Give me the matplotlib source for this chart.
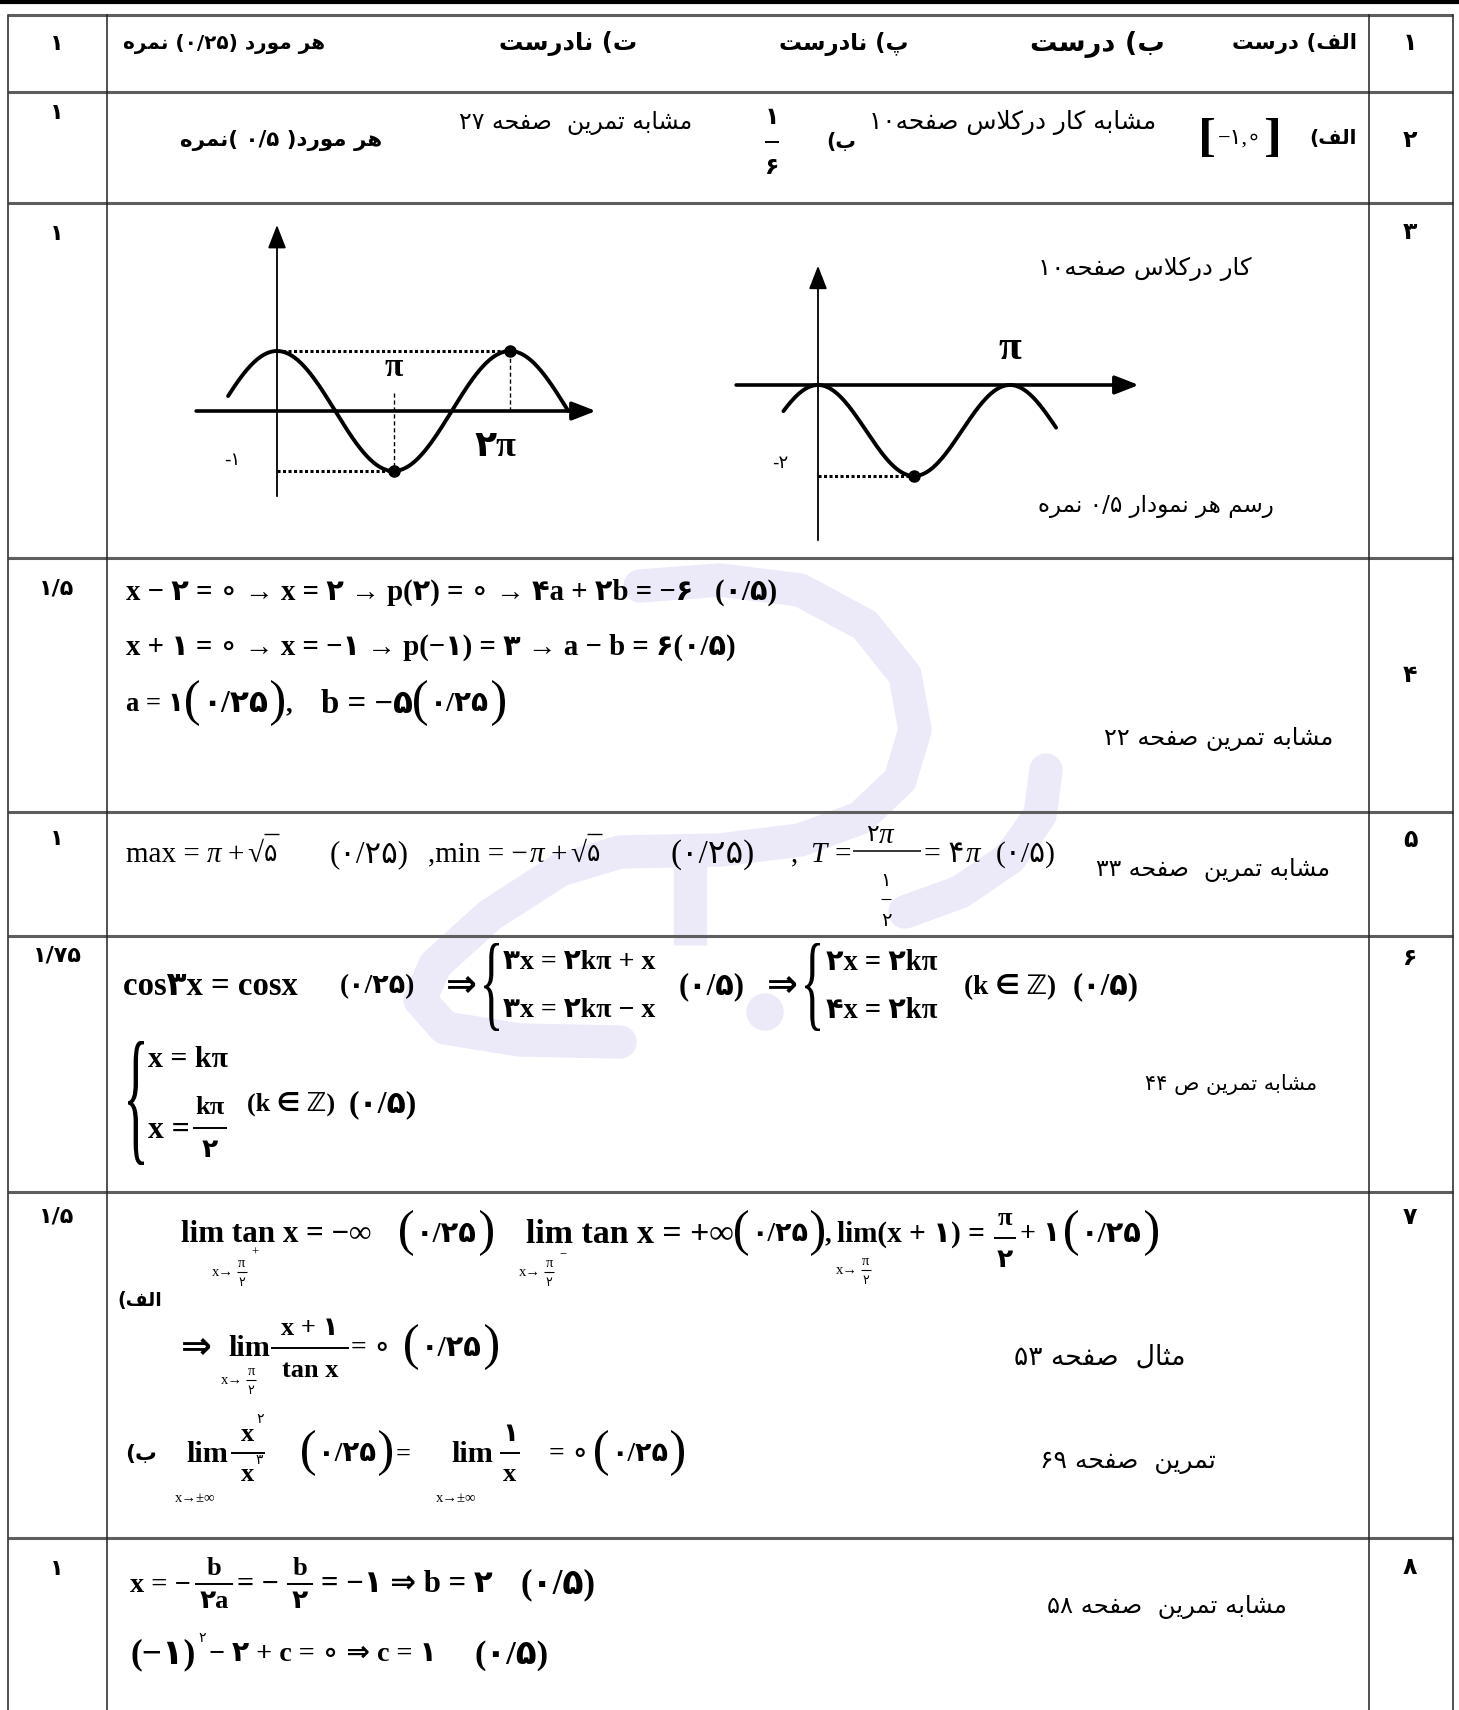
import re
import numpy as np
import matplotlib
matplotlib.use("Agg")
import matplotlib.pyplot as plt
from matplotlib.textpath import TextPath
from matplotlib.font_manager import FontProperties
from matplotlib.patches import PathPatch, Circle
from matplotlib.transforms import Affine2D

# ---------------- data ----------------
row_numbers = ['۱', '۲', '۳', '۴', '۵', '۶', '۷', '۸']
row_scores = ['۱', '۱', '۱', '۱/۵', '۱', '۱/۷۵', '۱/۵', '۱']
q1_answers = ['الف) درست', 'ب) درست', 'پ) نادرست', 'ت) نادرست', 'هر مورد (۰/۲۵) نمره']
q2_notes = ['الف)', 'مشابه کار درکلاس صفحه۱۰', 'ب)', 'مشابه تمرین  صفحه ۲۷', 'هر مورد( ۰/۵ )نمره']
q3_notes = ['کار درکلاس صفحه۱۰', 'رسم هر نمودار ۰/۵ نمره']
book_refs = ['مشابه تمرین صفحه ۲۲', 'مشابه تمرین  صفحه ۳۳', 'مشابه تمرین ص ۴۴',
             'مثال  صفحه ۵۳', 'تمرین  صفحه ۶۹', 'مشابه تمرین  صفحه ۵۸']

# graph 1: y = cos x ; graph 2: y = cos 2x - 1   (x ranges in multiples of pi)
g1_range = (-0.42, 2.5)
g1_marks_x = [1.0, 2.0]
g1_marks_y = [-1, 1]
g2_range = (-0.18, 1.24)
g2_marks_x = [0.5]
g2_marks_y = [-2]

# ---------------- persian shaping ----------------
AR = {
    'ا': ('\ufe8d', '\ufe8e', None, None), 'د': ('\ufea9', '\ufeaa', None, None),
    'ر': ('\ufead', '\ufeae', None, None), 'ز': ('\ufeaf', '\ufeb0', None, None),
    'و': ('\ufeed', '\ufeee', None, None),
    'ب': ('\ufe8f', '\ufe90', '\ufe91', '\ufe92'), 'پ': ('\ufb56', '\ufb57', '\ufb58', '\ufb59'),
    'ت': ('\ufe95', '\ufe96', '\ufe97', '\ufe98'), 'ث': ('\ufe99', '\ufe9a', '\ufe9b', '\ufe9c'),
    'ح': ('\ufea1', '\ufea2', '\ufea3', '\ufea4'), 'س': ('\ufeb1', '\ufeb2', '\ufeb3', '\ufeb4'),
    'ش': ('\ufeb5', '\ufeb6', '\ufeb7', '\ufeb8'), 'ص': ('\ufeb9', '\ufeba', '\ufebb', '\ufebc'),
    'ف': ('\ufed1', '\ufed2', '\ufed3', '\ufed4'), 'ک': ('\ufb8e', '\ufb8f', '\ufb90', '\ufb91'),
    'ل': ('\ufedd', '\ufede', '\ufedf', '\ufee0'), 'م': ('\ufee1', '\ufee2', '\ufee3', '\ufee4'),
    'ن': ('\ufee5', '\ufee6', '\ufee7', '\ufee8'), 'ه': ('\ufee9', '\ufeea', '\ufeeb', '\ufeec'),
    'ی': ('\ufbfc', '\ufbfd', '\ufbfe', '\ufbff'),
}


def shape(s):
    out, i, n = [], 0, len(s)
    while i < n:
        c = s[i]
        if c not in AR:
            out.append(c)
            i += 1
            continue
        prev = i > 0 and s[i - 1] in AR and AR[s[i - 1]][2] is not None
        if c == 'ل' and i + 1 < n and s[i + 1] == 'ا':
            out.append('\ufefc' if prev else '\ufefb')
            i += 2
            continue
        nxt = i + 1 < n and s[i + 1] in AR and AR[c][2] is not None
        iso, fin, ini, med = AR[c]
        out.append(med if prev and nxt else fin if prev else ini if nxt else iso)
        i += 1
    return ''.join(out)


def rtl(s):
    toks = re.findall(r'[0-9۰-۹]+(?:[/,.][0-9۰-۹]+)*|.', shape(s))
    mirror = {'(': ')', ')': '(', '[': ']', ']': '['}
    return ''.join(mirror.get(t, t) for t in reversed(toks))


# ---------------- canvas ----------------
W, H = 1459, 1710
fig = plt.figure(figsize=(W / 100, H / 100), dpi=100)
ax = fig.add_axes([0, 0, 1, 1])
ax.set_xlim(0, W)
ax.set_ylim(H, 0)
ax.axis('off')
renderer = fig.canvas.get_renderer()

SERIF = ['Liberation Serif', 'DejaVu Sans']
FA = ['DejaVu Sans']


def put(x, y, s, size=18, ha='left', bold=True, italic=False, fam=None, w=None, lo=0.7, hi=1.4):
    fam = fam or SERIF
    t = ax.text(x, y + 0.3 * size / 0.72, s, fontsize=size, ha=ha, va='baseline', family=fam,
                weight='bold' if bold else 'normal', style='italic' if italic else 'normal', zorder=4)
    if w:
        k = float(np.clip(w / t.get_window_extent(renderer).width, lo, hi))
        t.set_fontsize(size * k)
        t.set_y(y + 0.3 * size * k / 0.72)
    return t


def wid(t):
    return t.get_window_extent(renderer).width


def fa(xr, y, s, size=16, bold=False, w=None):
    return put(xr, y, rtl(s), size, ha='right', bold=bold, fam=FA, w=w, lo=0.85, hi=1.3)


def bar(x0, x1, y, lw=1.4):
    ax.plot([x0, x1], [y, y], color='k', lw=lw, zorder=4, solid_capstyle='butt')


def frac(xc, yn, yd, num, den, size, half, bold=True, italic=False):
    put(xc, yn, num, size, ha='center', bold=bold, italic=italic)
    put(xc, yd, den, size, ha='center', bold=bold)
    bar(xc - half, xc + half, (yn + yd) / 2, 1.4 if size > 12 else 0.9)


def glyph(ch, x0, x1, y0, y1, bold=False):
    p = TextPath((0, 0), ch, size=100,
                 prop=FontProperties(family='Liberation Serif', weight='bold' if bold else 'normal'))
    e = p.get_extents()
    tr = Affine2D().translate(-e.x0, -e.y0).scale((x1 - x0) / e.width, -(y1 - y0) / e.height).translate(x0, y1)
    ax.add_patch(PathPatch(tr.transform_path(p), fc='k', lw=0, zorder=4))


def paren_group(x0, x1, y, inner, size=18, h=42, pw=11):
    glyph('(', x0, x0 + pw, y - h / 2, y + h / 2)
    glyph(')', x1 - pw, x1, y - h / 2, y + h / 2)
    put((x0 + x1) / 2, y, inner, size, ha='center', w=x1 - x0 - 2 * pw - 6)


def limsub(xc, y, top, bottom):
    # small "x -> pi/2" under a lim
    put(xc - 2, y + 8, 'x→', 10.5, ha='right', bold=False)
    put(xc + 6, y - 1, top, 10.5, ha='center', bold=False)
    put(xc + 6, y + 18, bottom, 9, ha='center', bold=False)
    bar(xc + 1, xc + 11, y + 8, 0.8)


# ---------------- watermark ----------------
wm = '#ece9f8'
ax.plot([640, 720, 800, 865, 905, 915, 900, 860, 800, 720, 620, 560, 490, 435, 420, 445, 520, 620],
        [586, 580, 590, 625, 675, 730, 780, 818, 840, 850, 852, 870, 915, 965, 1000, 1028, 1040, 1042],
        color=wm, lw=24, solid_capstyle='round', solid_joinstyle='round', zorder=0)
ax.plot([1046, 1040, 1010, 960, 905], [770, 815, 858, 892, 912], color=wm, lw=24,
        solid_capstyle='round', zorder=0)
ax.plot([690, 690], [860, 945], color=wm, lw=24, solid_capstyle='butt', zorder=0)
ax.add_patch(Circle((765, 1012), 18, color=wm, zorder=0))

# ---------------- table ----------------
ax.plot([0, W], [2, 2], color='k', lw=3, zorder=2)
for y in [15, 92, 203, 558, 812, 936, 1192, 1538]:
    ax.plot([8, 1453], [y, y], color='#5e5e5e', lw=2.2, zorder=2, solid_capstyle='butt')
for x in [8, 107, 1369, 1453]:
    ax.plot([x, x], [15, H], color='#222222', lw=1.1, zorder=2)

num_y = [43, 140, 232, 675, 840, 958, 1217, 1567]
score_y = [43, 112, 233, 588, 838, 955, 1216, 1568]
for n, y in zip(row_numbers, num_y):
    put(1410, y, n, 17, ha='center', fam=FA)
for sc, y in zip(row_scores, score_y):
    put(57, y, sc, 16, ha='center', fam=FA)

# row 1
for s, xr, w in zip(q1_answers, [1357, 1165, 908, 637, 325], [125, 135, 130, 138, 200]):
    fa(xr, 43, s, 17, bold=True, w=w)

# row 2
fa(1357, 138, q2_notes[0], 17, bold=True, w=44)
glyph('[', 1202, 1214, 118, 157, bold=True)
glyph(']', 1266, 1278, 118, 157, bold=True)
put(1240, 137, '−۱,∘', 17, ha='center', bold=False, w=44)
fa(1156, 122, q2_notes[1], 15, w=289)
fa(856, 142, q2_notes[2], 17, bold=True, w=30)
frac(772, 117, 167, '۱', '۶', 17, 7)
fa(692, 122, q2_notes[3], 15, w=234)
fa(382, 140, q2_notes[4], 17, bold=True, w=202)

# row 3 : graphs
fa(1252, 268, q3_notes[0], 15, w=214)
fa(1274, 505, q3_notes[1], 15, w=236)


def graph_axes(box, origin, sx, sy):
    x0, y0, x1, y1 = box
    g = fig.add_axes([x0 / W, 1 - y1 / H, (x1 - x0) / W, (y1 - y0) / H])
    ox, oy = origin
    g.set_xlim((x0 - ox) / sx, (x1 - ox) / sx)
    g.set_ylim((oy - y1) / sy, (oy - y0) / sy)
    g.axis('off')
    g.patch.set_alpha(0)
    return g


def arrow(g, p0, p1, lw):
    g.annotate('', xy=p1, xytext=p0,
               arrowprops=dict(arrowstyle='-|>,head_length=0.9,head_width=0.35', lw=lw, color='k',
                               shrinkA=0, shrinkB=0, mutation_scale=16))


# left graph  y = cos x
g1 = graph_axes((185, 215, 610, 505), (277, 411), 233 / (2 * np.pi), 60)
xs = np.linspace(g1_range[0] * np.pi, g1_range[1] * np.pi, 300)
g1.plot(xs, np.cos(xs), color='k', lw=2.8, solid_capstyle='round')
arrow(g1, (-2.18, 0), (8.6, 0), 2.6)
arrow(g1, (0, -1.42), (0, 3.1), 1.3)
mx = np.array(g1_marks_x) * np.pi
g1.plot([0, mx[1]], [g1_marks_y[1]] * 2, color='k', lw=2.2, ls=(0, (1, 0.8)))
g1.plot([0, mx[0]], [g1_marks_y[0]] * 2, color='k', lw=2.2, ls=(0, (1, 0.8)))
g1.plot([mx[0]] * 2, [0.3, g1_marks_y[0]], color='k', lw=1.0, ls=(0, (3, 2)))
g1.plot([mx[1]] * 2, [0, g1_marks_y[1]], color='k', lw=1.0, ls=(0, (3, 2)))
g1.plot(mx, g1_marks_y, 'o', color='k', ms=8)
g1.text(mx[0], 0.72, 'π', fontsize=24, ha='center', va='center', family=SERIF, weight='bold')
g1.text(5.9, -0.6, '۲π', fontsize=26, ha='center', va='center', family=SERIF, weight='bold')
g1.text(-1.21, -0.82, '-۱', fontsize=13, ha='center', va='center', family=FA)

# right graph  y = cos 2x - 1
g2 = graph_axes((720, 250, 1150, 548), (818, 385), 192 / np.pi, 45.5)
xs = np.linspace(g2_range[0] * np.pi, g2_range[1] * np.pi, 300)
g2.plot(xs, np.cos(2 * xs) - 1, color='k', lw=2.8, solid_capstyle='round')
arrow(g2, (-1.34, 0), (5.25, 0), 2.6)
arrow(g2, (0, -3.41), (0, 2.62), 1.3)
mx2 = np.array(g2_marks_x) * np.pi
g2.plot([0, mx2[0]], [g2_marks_y[0]] * 2, color='k', lw=2.2, ls=(0, (1, 0.8)))
g2.plot(mx2, g2_marks_y, 'o', color='k', ms=8)
g2.text(np.pi, 0.8, 'π', fontsize=30, ha='center', va='center', family=SERIF, weight='bold')
g2.text(-0.62, -1.72, '-۲', fontsize=13, ha='center', va='center', family=FA)

# row 4
put(126, 591, 'x − ۲ = ∘ → x = ۲ → p(۲) = ∘ → ۴a + ۲b = −۶   (۰/۵)', 19, w=650)
put(126, 646, 'x + ۱ = ∘ → x = −۱ → p(−۱) = ۳ → a − b = ۶(۰/۵)', 19, w=610)
put(126, 703, 'a = ۱', 19, w=58)
paren_group(186, 284, 703, '۰/۲۵', 19, 46, 13)
put(286, 703, ',', 19)
put(321, 703, 'b = −۵', 19, w=92)
paren_group(414, 505, 703, '۰/۲۵', 19, 46, 13)
fa(1333, 738, book_refs[0], 15, w=230)

# row 5 (regular)
y5 = 853
s5 = 21
x = 126
t = put(x, y5, 'max =', s5, bold=False); x += wid(t) + 7
t = put(x, y5, 'π', s5, bold=False, italic=True); x += wid(t) + 6
t = put(x, y5, '+', s5, bold=False); x += wid(t) + 4
t = put(x, y5, '√', s5, bold=False); x += wid(t)
t = put(x, y5, '۵', 18, bold=False, fam=FA)
bar(x, x + wid(t) + 2, y5 - 19, 1.0)
put(330, y5, '(۰/۲۵)', s5, bold=False, w=79)
x = 428
t = put(x, y5, ',min = −', s5, bold=False); x += wid(t) + 2
t = put(x, y5, 'π', s5, bold=False, italic=True); x += wid(t) + 6
t = put(x, y5, '+', s5, bold=False); x += wid(t) + 4
t = put(x, y5, '√', s5, bold=False); x += wid(t)
t = put(x, y5, '۵', 18, bold=False, fam=FA)
bar(x, x + wid(t) + 2, y5 - 19, 1.0)
put(670, y5, '(۰/۲۵)', s5, bold=False, w=84)
put(791, y5, ',', s5, bold=False)
put(810, y5, 'T', s5, bold=False, italic=True)
put(834, y5, '=', s5, bold=False)
put(879, 834, '۲', 17, ha='right', bold=False, fam=FA)
put(879, 834, 'π', s5, ha='left', bold=False, italic=True)
bar(853, 921, y5 - 2, 1.1)
put(886, 880, '۱', 14, ha='center', bold=False, fam=FA)
bar(881, 891, 899, 0.8)
put(886, 920, '۲', 14, ha='center', bold=False, fam=FA)
put(924, y5, '= ۴', s5, bold=False, w=40)
put(966, y5, 'π', s5, bold=False, italic=True)
put(996, y5, '(۰/۵)', s5, bold=False, w=60)
fa(1330, 869, book_refs[1], 15, w=236)

# row 6
y6 = 985
put(123, y6, 'cos۳x = cosx', 19, w=175)
put(340, y6, '(۰/۲۵)', 19, w=75)
put(446, y6, '⇒', 19, w=32)
glyph('{', 484, 499, 943, 1031)
put(503, 961, '۳x = ۲kπ + x', 19, w=153)
put(503, 1009, '۳x = ۲kπ − x', 19, w=153)
put(679, y6, '(۰/۵)', 19, w=66)
put(767, y6, '⇒', 19, w=32)
glyph('{', 805, 820, 943, 1031)
put(826, 961, '۲x = ۲kπ', 19, w=112)
put(826, 1009, '۴x = ۲kπ', 19, w=112)
put(964, y6, '(k ∈ ℤ)', 19, w=92)
put(1073, y6, '(۰/۵)', 19, w=66)
glyph('{', 128, 144, 1041, 1165)
put(148, 1058, 'x = kπ', 19, w=80)
put(148, 1128, 'x =', 19, w=42)
frac(210, 1106, 1149, 'kπ', '۲', 19, 17)
put(247, 1103, '(k ∈ ℤ)', 19, w=88)
put(349, 1103, '(۰/۵)', 19, w=68)
fa(1317, 1084, book_refs[2], 15)

# row 7
y7 = 1233
put(181, y7, 'lim tan x = −∞', 19, w=190)
limsub(236, 1264, 'π', '۲')
put(251, 1252, '+', 9, bold=False)
paren_group(400, 493, y7, '۰/۲۵', 19, 46, 13)
put(526, y7, 'lim tan x = +∞', 19, w=208)
limsub(543, 1264, 'π', '۲')
put(559, 1254, '−', 9, bold=False)
paren_group(735, 824, y7, '۰/۲۵', 19, 46, 13)
put(825, y7, ',', 19)
put(837, y7, 'lim(x + ۱) =', 19, w=148)
limsub(860, 1262, 'π', '۲')
frac(1005, 1217, 1259, 'π', '۲', 19, 11)
put(1020, y7, '+ ۱', 19, w=40)
paren_group(1065, 1158, y7, '۰/۲۵', 19, 46, 13)
fa(162, 1300, 'الف)', 16, bold=True, w=40)

y7b = 1347
put(181, y7b, '⇒', 19, w=40)
put(228, y7b, 'lim', 19, w=42)
limsub(245, 1372, 'π', '۲')
frac(310, 1327, 1369, 'x + ۱', 'tan x', 19, 39)
put(351, y7b, '= ∘', 19, w=40)
paren_group(405, 498, y7b, '۰/۲۵', 19, 46, 13)
fa(1185, 1357, book_refs[3], 15, w=172)

y7c = 1453
fa(157, y7c, 'ب)', 16, bold=True, w=32)
put(186, y7c, 'lim', 19, w=42)
frac(248, 1433, 1473, 'x', 'x', 19, 17)
put(256, 1419, '۲', 10, bold=False, fam=FA)
put(256, 1460, '۳', 10, bold=False, fam=FA)
put(195, 1498, 'x→±∞', 10.5, ha='center', bold=False)
paren_group(302, 392, y7c, '۰/۲۵', 19, 46, 13)
put(396, y7c, '=', 19)
put(451, y7c, 'lim', 19, w=42)
frac(510, 1433, 1473, '۱', 'x', 19, 10)
put(456, 1498, 'x→±∞', 10.5, ha='center', bold=False)
put(549, y7c, '= ∘', 19, w=40)
paren_group(595, 684, y7c, '۰/۲۵', 19, 46, 13)
fa(1216, 1460, book_refs[4], 15, w=176)

# row 8
y8 = 1583
put(130, y8, 'x = −', 19, w=61)
frac(214, 1567, 1600, 'b', '۲a', 19, 19)
put(237, y8, '= −', 19, w=42)
frac(300, 1567, 1600, 'b', '۲', 19, 13)
put(321, y8, '= −۱ ⇒ b = ۲', 19, w=172)
put(521, y8, '(۰/۵)', 19, w=75)
y8b = 1653
put(130, y8b, '(−۱)', 19, w=65)
put(198, 1638, '۲', 10, bold=False, fam=FA)
put(209, y8b, '− ۲ + c = ∘ ⇒ c = ۱', 19, w=228)
put(475, y8b, '(۰/۵)', 19, w=74)
fa(1287, 1606, book_refs[5], 15, w=240)

fig.savefig('out.png', dpi=100, facecolor='white')
